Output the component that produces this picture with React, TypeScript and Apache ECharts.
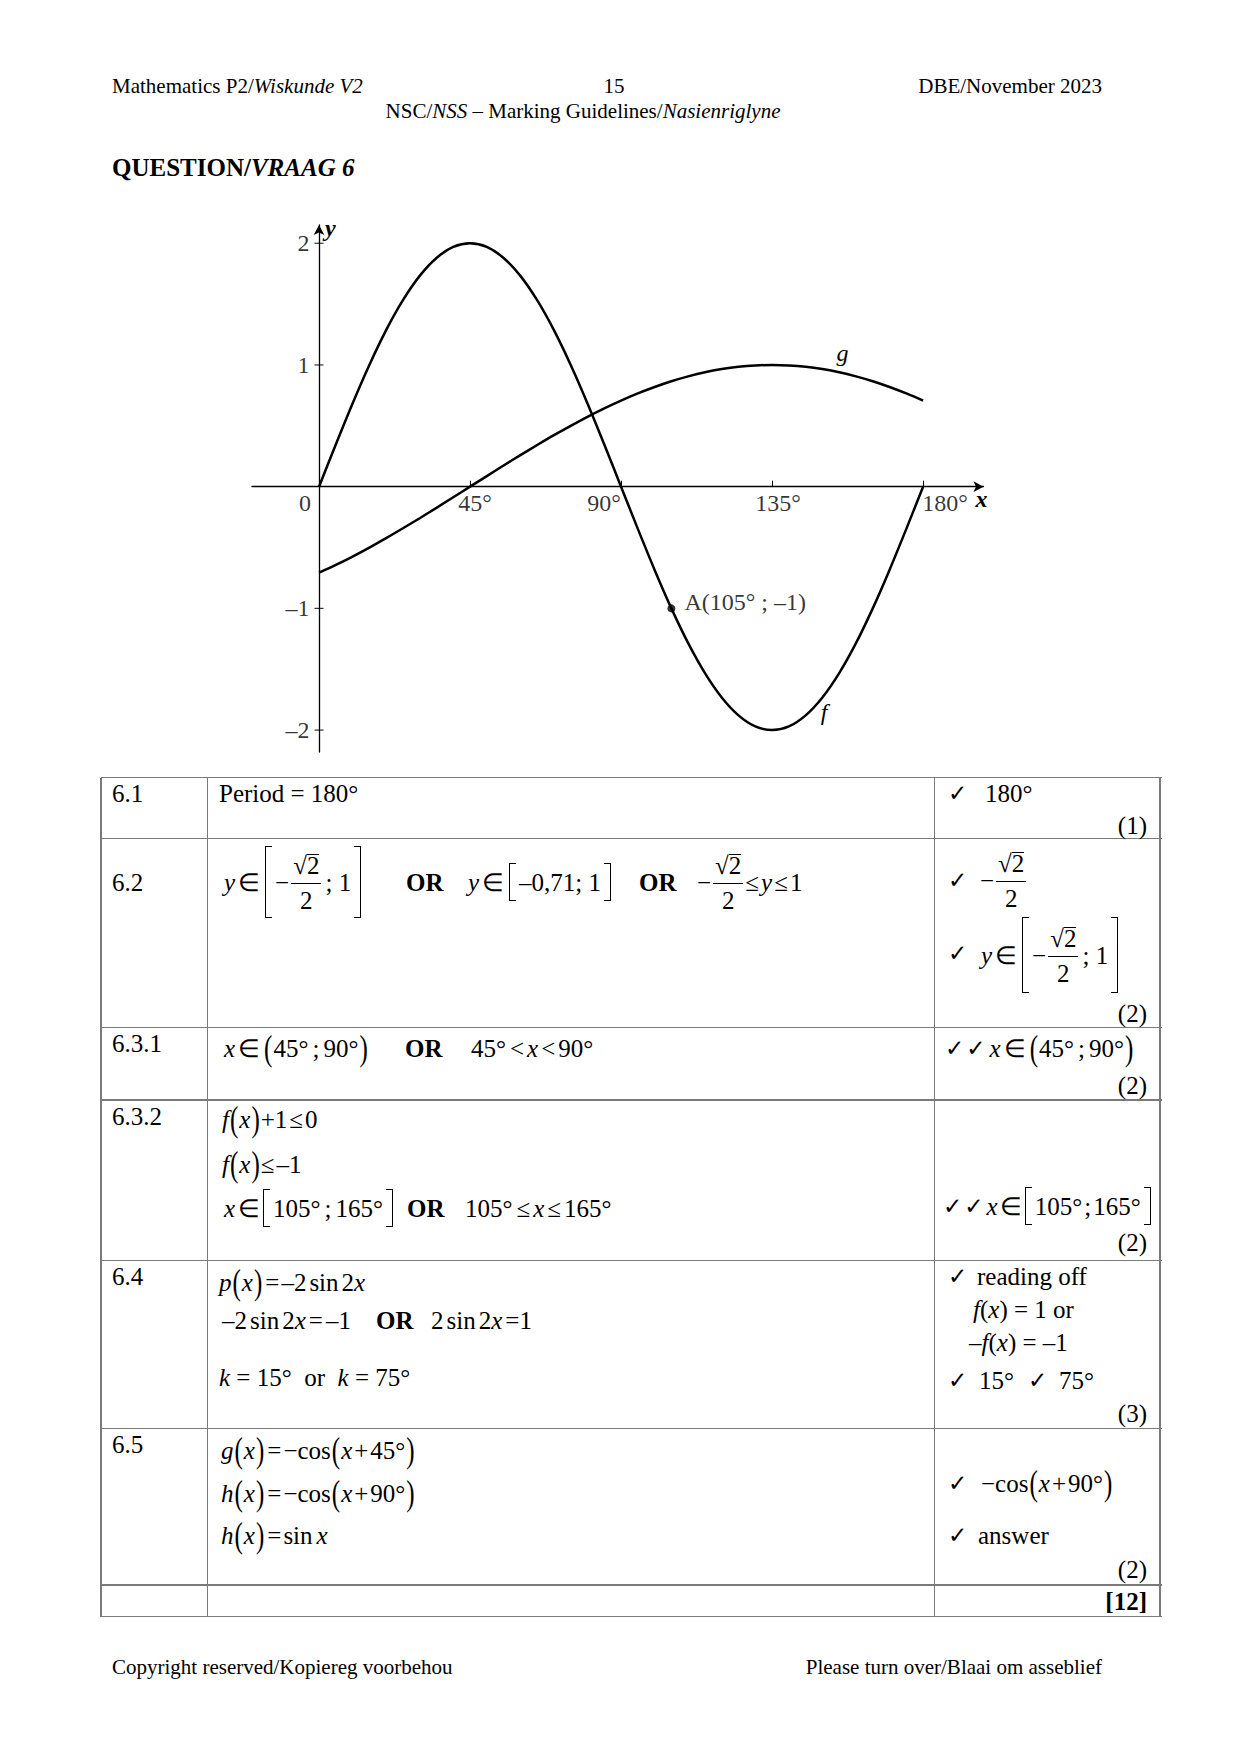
import React, { useEffect, useRef } from "react";
import * as echarts from "echarts";

// ---------- data ----------
const X_DEG = [0, 5, 10, 15, 20, 25, 30, 35, 40, 45, 50, 55, 60, 65, 70, 75, 80, 85, 90, 95, 100, 105, 110, 115, 120, 125, 130, 135, 140, 145, 150, 155, 160, 165, 170, 175, 180];
const F_VALUES = [0, 0.347, 0.684, 1.0, 1.286, 1.532, 1.732, 1.879, 1.97, 2.0, 1.97, 1.879, 1.732, 1.532, 1.286, 1.0, 0.684, 0.347, 0, -0.347, -0.684, -1.0, -1.286, -1.532, -1.732, -1.879, -1.97, -2.0, -1.97, -1.879, -1.732, -1.532, -1.286, -1.0, -0.684, -0.347, 0];
const G_VALUES = [-0.707, -0.643, -0.574, -0.5, -0.423, -0.342, -0.259, -0.174, -0.087, 0, 0.087, 0.174, 0.259, 0.342, 0.423, 0.5, 0.574, 0.643, 0.707, 0.766, 0.819, 0.866, 0.906, 0.94, 0.966, 0.985, 0.996, 1.0, 0.996, 0.985, 0.966, 0.94, 0.906, 0.866, 0.819, 0.766, 0.707];
const X_TICKS = [0, 45, 90, 135, 180];
const X_TICK_LABELS = ["0", "45°", "90°", "135°", "180°"];
const Y_TICKS = [-2, -1, 1, 2];
const Y_TICK_LABELS = ["–2", "–1", "1", "2"];
const POINT_A = [105, -1];
const POINT_A_LABEL = "A(105° ; –1)";
const F_NAME = "f";
const G_NAME = "g";
const F_NAME_AT = [150.5, -1.85];
const G_NAME_AT = [156, 1.1];

const FONT = "'Liberation Serif', 'Times New Roman', serif";
// horizontal nudges of the x tick labels (style only)
const X_LABEL_SHIFT = [-14, 5, -17, 6, 22];

function Graph() {
  const ref = useRef<HTMLDivElement>(null);
  useEffect(() => {
    const chart = echarts.init(ref.current as HTMLDivElement, undefined, { renderer: "svg" });
    const black = "#000";
    const txt = { fontSize: 24, fontFamily: FONT, color: black };
    chart.setOption({
      animation: false,
      grid: { left: 51.9, top: 35, width: 731.6, height: 527, containLabel: false, outerBoundsMode: "none" },
      xAxis: {
        type: "value",
        min: -20,
        max: 198,
        axisLine: { onZero: true, symbol: ["none", "arrow"], symbolSize: [8, 10], lineStyle: { color: black, width: 1.3 } },
        axisTick: { show: true, inside: true, length: 6, customValues: X_TICKS.slice(1), lineStyle: { color: black, width: 1 } },
        axisLabel: { show: false },
        splitLine: { show: false },
      },
      yAxis: {
        type: "value",
        min: -2.18,
        max: 2.15,
        axisLine: { onZero: true, symbol: ["none", "arrow"], symbolSize: [8, 10], lineStyle: { color: black, width: 1.3 } },
        axisTick: { show: false },
        axisLabel: { show: false },
        splitLine: { show: false },
      },
      series: [
        {
          type: "line",
          name: F_NAME,
          data: X_DEG.map((x, i) => [x, F_VALUES[i]]),
          symbol: "none",
          smooth: 0.3,
          lineStyle: { color: black, width: 2.5 },
          z: 3,
        },
        {
          type: "line",
          name: G_NAME,
          data: X_DEG.map((x, i) => [x, G_VALUES[i]]),
          symbol: "none",
          smooth: 0.3,
          lineStyle: { color: black, width: 2.5 },
          z: 3,
        },
        {
          type: "scatter",
          data: [POINT_A],
          symbol: "circle",
          symbolSize: 8,
          itemStyle: { color: black },
          z: 4,
          label: { show: true, position: "right", distance: 9, offset: [0, -6], formatter: POINT_A_LABEL, ...txt },
        },
        {
          // x tick labels, placed through the axis scale
          type: "scatter",
          symbolSize: 0,
          silent: true,
          data: X_TICKS.map((v, i) => ({
            value: [v, 0],
            label: { formatter: X_TICK_LABELS[i], offset: [X_LABEL_SHIFT[i], 0] },
          })),
          label: { show: true, position: "bottom", distance: 4, ...txt },
        },
        {
          // y ticks (crossing the axis) and their labels
          type: "scatter",
          symbol: "rect",
          symbolSize: [9, 1.2],
          itemStyle: { color: black },
          silent: true,
          data: Y_TICKS.map((v, i) => ({ value: [0, v], label: { formatter: Y_TICK_LABELS[i] } })),
          label: { show: true, position: "left", distance: 5, ...txt },
        },
      ],
    });

    const toPx = (p: number[]) => chart.convertToPixel({ seriesIndex: 0 }, p) as number[];
    const yTop = toPx([0, 2.15]);
    const xEnd = toPx([198, 0]);
    const fAt = toPx(F_NAME_AT);
    const gAt = toPx(G_NAME_AT);
    chart.setOption({
      graphic: [
        { type: "text", x: yTop[0] + 6, y: yTop[1] + 3, style: { text: "y", font: "italic bold 24px " + FONT, fill: black, verticalAlign: "middle" } },
        { type: "text", x: xEnd[0] - 2, y: xEnd[1] + 12, style: { text: "x", font: "italic bold 24px " + FONT, fill: black, align: "center", verticalAlign: "middle" } },
        { type: "text", x: gAt[0], y: gAt[1], style: { text: G_NAME, font: "italic 24px " + FONT, fill: black, align: "center", verticalAlign: "middle" } },
        { type: "text", x: fAt[0], y: fAt[1], style: { text: F_NAME, font: "italic 24px " + FONT, fill: black, align: "center", verticalAlign: "middle" } },
      ],
    });
    return () => chart.dispose();
  }, []);
  return <div ref={ref} style={{ position: "absolute", left: 200, top: 190, width: 840, height: 580 }} />;
}

// ---------- text helpers ----------
function At(props: { x: number; y: number; children?: any; size?: number; align?: string; bold?: boolean }) {
  const { x, y, children, size = 25, align = "left", bold = false } = props;
  const s: any = {
    position: "absolute",
    top: y,
    height: 0,
    display: "flex",
    alignItems: "center",
    whiteSpace: "nowrap",
    fontSize: size,
    fontFamily: FONT,
    lineHeight: 1,
    color: "#000",
    fontWeight: bold ? "bold" : "normal",
  };
  if (align === "left") s.left = x;
  else if (align === "right") {
    s.right = 1241 - x;
    s.justifyContent = "flex-end";
  } else {
    s.left = x;
    s.transform = "translateX(-50%)";
  }
  return <div style={s}>{children}</div>;
}

const I = ({ children }: any) => <i>{children}</i>;
const Ck = () => <span style={{ fontFamily: "'DejaVu Sans', sans-serif", fontSize: 23, marginRight: 2 }}>✓</span>;
const Sp = ({ w = 6 }: any) => <span style={{ display: "inline-block", width: w }} />;
const Sqrt2 = () => (
  <span style={{ display: "inline-flex", alignItems: "flex-start" }}>
    <span>√</span>
    <span style={{ borderTop: "1.3px solid #000", lineHeight: "22px", marginTop: 2 }}>2</span>
  </span>
);
const Frac = ({ n, d }: any) => (
  <span style={{ display: "inline-flex", flexDirection: "column", alignItems: "center", margin: "0 2px" }}>
    <span style={{ lineHeight: "28px", padding: "0 2px 3px", height: 31, display: "flex", alignItems: "flex-end" }}>{n}</span>
    <span style={{ lineHeight: "28px", padding: "3px 2px 0", borderTop: "1.3px solid #000", alignSelf: "stretch", textAlign: "center" }}>{d}</span>
  </span>
);
const Br = ({ side, h }: any) => (
  <span
    style={{
      display: "inline-block",
      width: 6,
      height: h,
      borderTop: "1.3px solid #000",
      borderBottom: "1.3px solid #000",
      borderLeft: side === "l" ? "1.3px solid #000" : "none",
      borderRight: side === "r" ? "1.3px solid #000" : "none",
      margin: "0 3px",
    }}
  />
);
const P = ({ children }: any) => (
  <span style={{ display: "inline-block", transform: "scaleY(1.4)", margin: "0 1px" }}>{children}</span>
);
const Fx = ({ f }: any) => (
  <>
    <I>{f}</I>
    <P>(</P>
    <I>x</I>
    <P>)</P>
  </>
);

const H_LINES = [777.5, 838.3, 1027.3, 1100, 1260.5, 1428.3, 1585, 1616.7];
const V_LINES = [101, 207.5, 934.5, 1160];

function Table() {
  const lines: any[] = [];
  H_LINES.forEach((y, i) =>
    lines.push(<div key={"h" + i} style={{ position: "absolute", left: 101, top: y - 0.75, width: 1160 - 101 + 1.5, height: 1.5, background: "#7a7a7a" }} />)
  );
  V_LINES.forEach((x, i) =>
    lines.push(<div key={"v" + i} style={{ position: "absolute", left: x - 0.75, top: 777.5, width: 1.5, height: 1616.7 - 777.5, background: "#7a7a7a" }} />)
  );
  return (
    <>
      {lines}
      {/* 6.1 */}
      <At x={112} y={793}>6.1</At>
      <At x={219} y={793}>Period = 180°</At>
      <At x={948} y={793}><Ck /></At>
      <At x={985} y={793}>180°</At>
      <At x={1147} y={825} align="right">(1)</At>

      {/* 6.2 */}
      <At x={112} y={882}>6.2</At>
      <At x={224} y={882}>
        <I>y</I><Sp w={3} />∈<Sp w={2} /><Br side="l" h={70} />−<Frac n={<Sqrt2 />} d="2" /><Sp w={2} />; 1<Br side="r" h={70} />
      </At>
      <At x={406} y={882} bold>OR</At>
      <At x={468} y={882}>
        <I>y</I><Sp w={3} />∈<Sp w={2} /><Br side="l" h={36} />–0,71; 1<Br side="r" h={36} />
      </At>
      <At x={639} y={882} bold>OR</At>
      <At x={697} y={882}>
        −<Frac n={<Sqrt2 />} d="2" />≤<Sp w={2} /><I>y</I><Sp w={2} />≤<Sp w={2} />1
      </At>
      <At x={948} y={880}><Ck /></At>
      <At x={980} y={880}>−<Frac n={<Sqrt2 />} d="2" /></At>
      <At x={948} y={953}><Ck /></At>
      <At x={981} y={955}>
        <I>y</I><Sp w={3} />∈<Sp w={2} /><Br side="l" h={74} />−<Frac n={<Sqrt2 />} d="2" /><Sp w={2} />; 1<Br side="r" h={74} />
      </At>
      <At x={1147} y={1013} align="right">(2)</At>

      {/* 6.3.1 */}
      <At x={112} y={1043}>6.3.1</At>
      <At x={224} y={1048}>
        <I>x</I><Sp w={3} />∈<Sp w={3} /><P>(</P>45°<Sp w={4} />;<Sp w={4} />90°<P>)</P>
      </At>
      <At x={405} y={1048} bold>OR</At>
      <At x={471} y={1048}>
        45°<Sp w={4} />&lt;<Sp w={3} /><I>x</I><Sp w={3} />&lt;<Sp w={3} />90°
      </At>
      <At x={945} y={1048}>
        <Ck /><Ck /><Sp w={2} /><I>x</I><Sp w={3} />∈<Sp w={3} /><P>(</P>45°<Sp w={4} />;<Sp w={4} />90°<P>)</P>
      </At>
      <At x={1147} y={1085} align="right">(2)</At>

      {/* 6.3.2 */}
      <At x={112} y={1116}>6.3.2</At>
      <At x={222} y={1119}>
        <Fx f="f" />+1<Sp w={2} />≤<Sp w={2} />0
      </At>
      <At x={222} y={1164}>
        <Fx f="f" />≤<Sp w={2} />–1
      </At>
      <At x={224} y={1208}>
        <I>x</I><Sp w={3} />∈<Br side="l" h={36} />105°<Sp w={4} />;<Sp w={4} />165°<Br side="r" h={36} />
      </At>
      <At x={407} y={1208} bold>OR</At>
      <At x={465} y={1208}>
        105°<Sp w={4} />≤<Sp w={3} /><I>x</I><Sp w={3} />≤<Sp w={3} />165°
      </At>
      <At x={943} y={1206}>
        <Ck /><Ck /><Sp w={1} /><I>x</I><Sp w={2} />∈<Br side="l" h={36} />105°<Sp w={2} />;<Sp w={2} />165°<Br side="r" h={36} />
      </At>
      <At x={1147} y={1242} align="right">(2)</At>

      {/* 6.4 */}
      <At x={112} y={1276}>6.4</At>
      <At x={219} y={1282}>
        <Fx f="p" /><Sp w={2} />=<Sp w={2} />–2<Sp w={3} />sin<Sp w={3} />2<I>x</I>
      </At>
      <At x={222} y={1320}>
        –2<Sp w={3} />sin<Sp w={3} />2<I>x</I><Sp w={3} />=<Sp w={3} />–1
      </At>
      <At x={376} y={1320} bold>OR</At>
      <At x={431} y={1320}>
        2<Sp w={3} />sin<Sp w={3} />2<I>x</I><Sp w={3} />=1
      </At>
      <At x={219} y={1377}>
        <I>k</I>&nbsp;= 15°&nbsp; or &nbsp;<I>k</I>&nbsp;= 75°
      </At>
      <At x={948} y={1276}><Ck /></At>
      <At x={977} y={1276}>reading off</At>
      <At x={973} y={1309}><I>f</I>(<I>x</I>) = 1 or</At>
      <At x={969} y={1342}>–<I>f</I>(<I>x</I>) = –1</At>
      <At x={948} y={1380}><Ck /></At>
      <At x={979} y={1380}>15°</At>
      <At x={1028} y={1380}><Ck /></At>
      <At x={1059} y={1380}>75°</At>
      <At x={1147} y={1413} align="right">(3)</At>

      {/* 6.5 */}
      <At x={112} y={1444}>6.5</At>
      <At x={221} y={1450}>
        <Fx f="g" /><Sp w={2} />=<Sp w={2} />−cos<P>(</P><I>x</I><Sp w={2} />+<Sp w={2} />45°<P>)</P>
      </At>
      <At x={221} y={1493}>
        <Fx f="h" /><Sp w={2} />=<Sp w={2} />−cos<P>(</P><I>x</I><Sp w={2} />+<Sp w={2} />90°<P>)</P>
      </At>
      <At x={221} y={1535}>
        <Fx f="h" /><Sp w={2} />=<Sp w={2} />sin<Sp w={4} /><I>x</I>
      </At>
      <At x={948} y={1483}><Ck /></At>
      <At x={981} y={1483}>
        −cos<P>(</P><I>x</I><Sp w={2} />+<Sp w={2} />90°<P>)</P>
      </At>
      <At x={948} y={1535}><Ck /></At>
      <At x={978} y={1535}>answer</At>
      <At x={1147} y={1569} align="right">(2)</At>

      <At x={1147} y={1601} align="right" bold>[12]</At>
    </>
  );
}

export default function App() {
  return (
    <div style={{ position: "absolute", left: 0, top: 0, width: 1241, height: 1755, background: "#fff", overflow: "hidden", fontFamily: FONT }}>
      <Graph />
      <At x={112} y={86} size={21}>Mathematics P2/<i>Wiskunde V2</i></At>
      <At x={614} y={86} size={21} align="center">15</At>
      <At x={1102} y={86} size={21} align="right">DBE/November 2023</At>
      <At x={583} y={111} size={21} align="center">
        NSC/<i>NSS</i>&nbsp;– Marking Guidelines/<i>Nasienriglyne</i>
      </At>
      <At x={112} y={167} size={25} bold>QUESTION/<i>VRAAG 6</i></At>
      <Table />
      <At x={112} y={1667} size={21}>Copyright reserved/Kopiereg voorbehou</At>
      <At x={1102} y={1667} size={21} align="right">Please turn over/Blaai om asseblief</At>
    </div>
  );
}
